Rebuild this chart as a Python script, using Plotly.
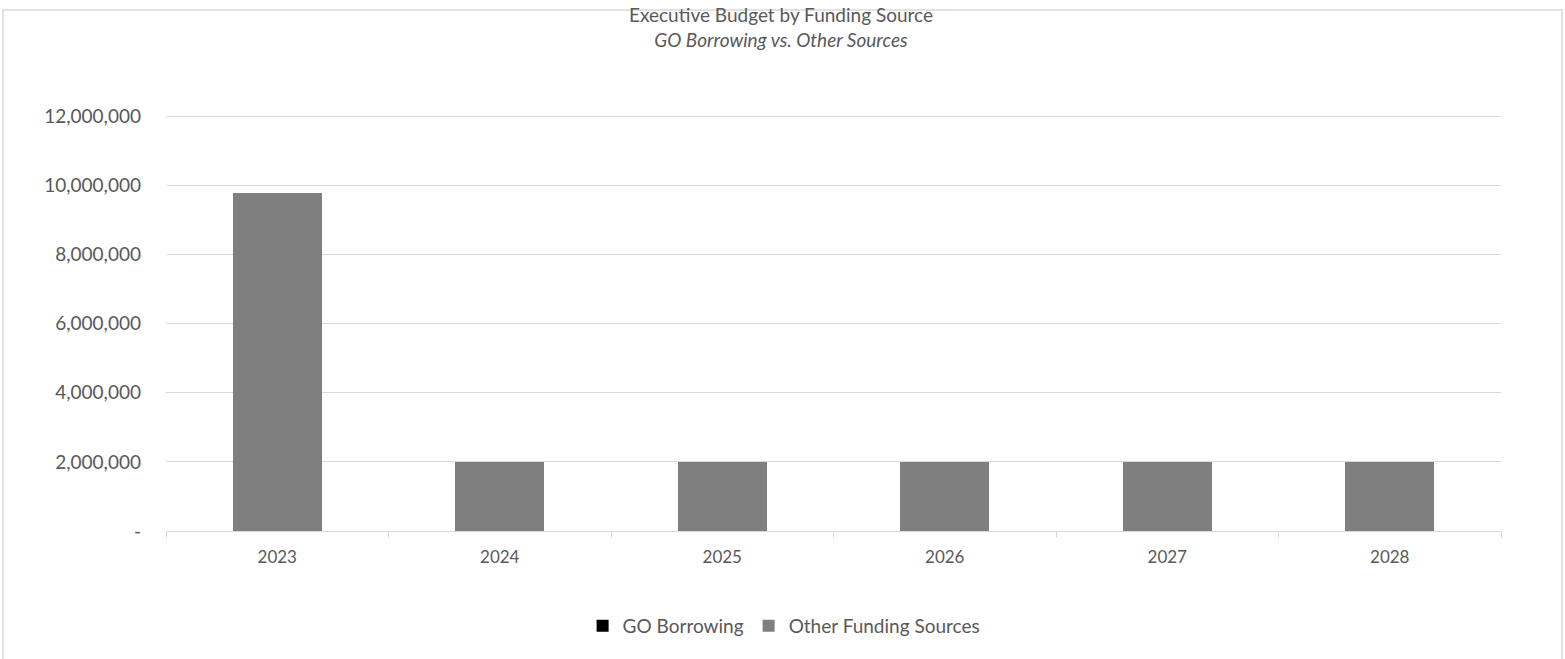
import plotly.graph_objects as go

years = ["2023", "2024", "2025", "2026", "2027", "2028"]
go_borrowing = [0, 0, 0, 0, 0, 0]
other_sources = [9780000, 2000000, 2000000, 2000000, 2000000, 2000000]
ytick_vals = [0, 2000000, 4000000, 6000000, 8000000, 10000000, 12000000]
ytick_text = ["-", "2,000,000", "4,000,000", "6,000,000", "8,000,000", "10,000,000", "12,000,000"]

FONT = "Lato"
TXT = "#595959"

fig = go.Figure()
fig.add_trace(go.Bar(x=years, y=go_borrowing, name="GO Borrowing",
                     marker=dict(color="#000000", line=dict(width=0))))
fig.add_trace(go.Bar(x=years, y=other_sources, name="Other Funding Sources",
                     marker=dict(color="#7f7f7f", line=dict(width=0))))

fig.update_layout(
    barmode="stack",
    bargap=0.6,
    width=1565, height=659,
    margin=dict(l=166, r=64, t=115, b=128),
    paper_bgcolor="white", plot_bgcolor="white",
    font=dict(family=FONT, color=TXT, size=16),
    showlegend=True,
    legend=dict(orientation="h", x=0.463, xanchor="center", y=-0.228, yanchor="middle",
                font=dict(size=19, color=TXT), traceorder="normal", itemwidth=30),
    annotations=[
        dict(text="Executive Budget by Funding Source<br><i>GO Borrowing vs. Other Sources</i>",
             xref="paper", yref="paper", x=0.461, y=1.212, xanchor="center", yanchor="middle",
             showarrow=False, font=dict(size=19, color=TXT, family=FONT), align="center"),
    ],
    shapes=[
        dict(type="rect", xref="paper", yref="paper", x0=-0.1221, x1=1.0457, y0=-0.5, y1=1.2524,
             line=dict(color="#d9d9d9", width=1.5), fillcolor="rgba(0,0,0,0)", layer="below"),
    ],
)
fig.update_yaxes(range=[0, 12040000], tickvals=ytick_vals, ticktext=ytick_text,
                 showgrid=True, gridcolor="#d9d9d9", gridwidth=1, zeroline=False,
                 showline=False, ticks="", ticklabelstandoff=24,
                 tickfont=dict(size=19, color=TXT, family=FONT))
fig.update_xaxes(type="category", showline=True, linecolor="#d9d9d9", linewidth=1,
                 ticks="outside", tickson="boundaries", ticklen=6, tickcolor="#d9d9d9",
                 showgrid=False, ticklabelstandoff=11,
                 tickfont=dict(size=17, color=TXT, family=FONT))

fig.write_html("out.html")
